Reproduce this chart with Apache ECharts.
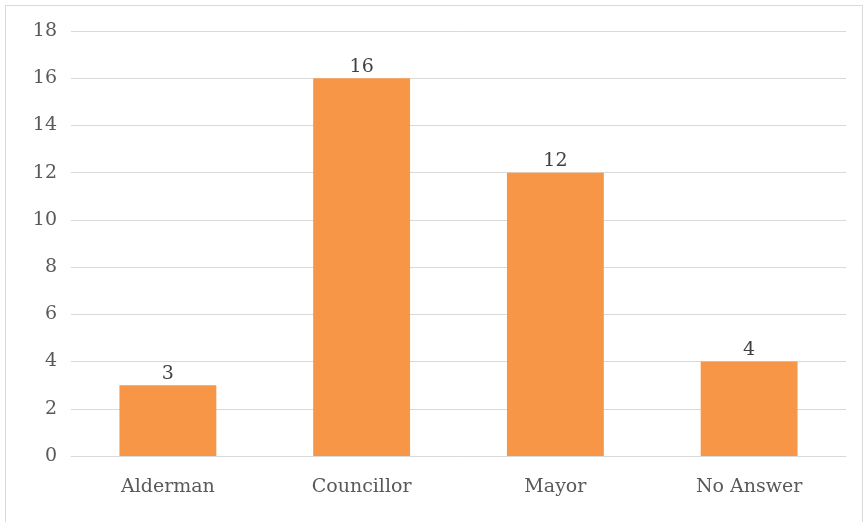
<!DOCTYPE html>
<html>
<head>
<meta charset="utf-8">
<script src="https://cdn.jsdelivr.net/npm/echarts@6/dist/echarts.min.js"></script>
<style>
  html, body { margin: 0; padding: 0; background: #fff; }
  #chart { width: 868px; height: 522px; }
</style>
</head>
<body>
<div id="chart"></div>
<script>
const categories = ['Alderman', 'Councillor', 'Mayor', 'No Answer'];
const counts = [3, 16, 12, 4];
const yTicks = { min: 0, max: 18, step: 2 };

const textFont = 'DejaVu Serif';
const textColor = '#595959';

const chart = echarts.init(document.getElementById('chart'), null, { renderer: 'canvas' });
chart.setOption({
  animation: false,
  backgroundColor: '#ffffff',
  graphic: [{
    type: 'rect',
    shape: { x: 5.5, y: 5.5, width: 857, height: 530 },
    style: { fill: 'none', stroke: '#d9d9d9', lineWidth: 1 },
    silent: true
  }],
  grid: { left: 71, right: 22, top: 31, bottom: 66, containLabel: false },
  xAxis: {
    type: 'category',
    data: categories,
    axisLine: { show: true, lineStyle: { color: '#d9d9d9', width: 1 } },
    axisTick: { show: false },
    axisLabel: { color: textColor, fontFamily: textFont, fontSize: 19, margin: 22 }
  },
  yAxis: {
    type: 'value',
    min: yTicks.min,
    max: yTicks.max,
    interval: yTicks.step,
    axisLine: { show: false },
    axisTick: { show: false },
    axisLabel: { color: textColor, fontFamily: textFont, fontSize: 19, margin: 14 },
    splitLine: { lineStyle: { color: '#d9d9d9', width: 1 } }
  },
  series: [{
    type: 'bar',
    data: counts,
    barWidth: '50%',
    itemStyle: { color: '#F79646' },
    label: {
      show: true,
      position: 'top',
      distance: 2,
      color: '#404040',
      fontFamily: textFont,
      fontSize: 19
    }
  }]
});
</script>
</body>
</html>
